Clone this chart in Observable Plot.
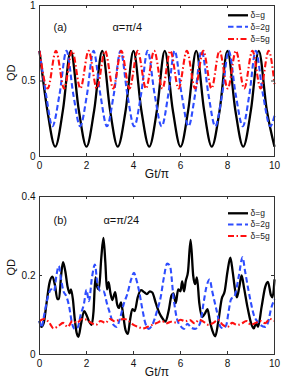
<!DOCTYPE html>
<html>
<head>
<meta charset="utf-8">
<script src="https://cdn.jsdelivr.net/npm/d3@7"></script>
<script src="https://cdn.jsdelivr.net/npm/@observablehq/plot@0.6"></script>
<style>
  html, body { margin: 0; padding: 0; background: #fff; }
  #chart { width: 286px; }
  #chart svg { display: block; overflow: visible; }
</style>
</head>
<body>
<div id="chart"></div>
<script>
// ---------- shared ----------
const seriesNames = ["δ=g", "δ=2g", "δ=5g"];
const xTicks = [0, 2, 4, 6, 8, 10];
const aYTicks = [0, 0.5, 1];
const bYTicks = [0, 0.2, 0.4];

// ---------- panel (a): alpha = pi/4 ----------
const aT_g = [0,0.33,0.67,1.0,1.33,1.67,2.0,2.33,2.67,3.0,3.33,3.67,4.0,4.33,4.67,5.0,5.33,5.67,6.0,6.33,6.67,7.0,7.33,7.67,8.0,8.33,8.67,9.0,9.33,9.67,10];
const aV_g = [0.70,0.31,0.065,0.31,0.70,0.31,0.065,0.31,0.70,0.31,0.065,0.31,0.70,0.31,0.065,0.31,0.70,0.31,0.065,0.31,0.70,0.31,0.065,0.31,0.70,0.31,0.065,0.31,0.70,0.31,0.065];

const aT_2g = [0,0.28,0.55,0.85,1.15,1.44,1.73,2.02,2.3,2.59,2.87,3.16,3.45,3.74,4.03,4.32,4.6,4.9,5.2,5.48,5.75,6.05,6.34,6.62,6.9,7.19,7.48,7.77,8.05,8.35,8.65,8.93,9.2,9.51,9.82,10];
const aV_2g = [0.70,0.41,0.20,0.41,0.70,0.41,0.20,0.41,0.70,0.41,0.20,0.41,0.70,0.41,0.20,0.41,0.70,0.41,0.20,0.41,0.70,0.41,0.20,0.41,0.70,0.41,0.20,0.41,0.70,0.41,0.20,0.41,0.70,0.41,0.20,0.27];

const aT_5g = [0,0.35,0.70,1.05,1.39,1.74,2.09,2.44,2.79,3.14,3.48,3.83,4.18,4.53,4.88,5.23,5.57,5.92,6.27,6.62,6.97,7.32,7.66,8.01,8.36,8.71,9.06,9.41,9.75,10];
const aV_5g = [0.70,0.45,0.70,0.45,0.70,0.45,0.70,0.45,0.70,0.45,0.70,0.45,0.70,0.45,0.70,0.45,0.70,0.45,0.70,0.45,0.70,0.45,0.70,0.45,0.70,0.45,0.70,0.45,0.70,0.48];

// ---------- panel (b): alpha = pi/24 ----------
const bT_g = [0,0.08,0.18,0.3,0.42,0.55,0.66,0.76,0.83,0.92,1.0,1.1,1.2,1.28,1.34,1.42,1.5,1.58,1.66,1.76,1.9,2.0,2.1,2.22,2.3,2.38,2.45,2.53,2.63,2.72,2.8,2.87,2.94,3.02,3.1,3.22,3.3,3.38,3.47,3.56,3.66,3.76,3.86,3.95,4.05,4.18,4.32,4.45,4.57,4.7,4.8,4.95,5.1,5.25,5.36,5.5,5.62,5.7,5.8,5.9,6.0,6.07,6.15,6.22,6.32,6.43,6.54,6.62,6.7,6.8,6.92,7.05,7.15,7.25,7.36,7.48,7.6,7.75,7.88,8.0,8.12,8.22,8.32,8.4,8.5,8.6,8.7,8.85,9.0,9.12,9.22,9.3,9.45,9.6,9.72,9.85,9.92,10];
const bV_g = [0.085,0.07,0.08,0.13,0.18,0.197,0.175,0.14,0.14,0.2,0.234,0.21,0.17,0.155,0.165,0.14,0.09,0.055,0.045,0.075,0.11,0.1,0.085,0.075,0.11,0.195,0.172,0.165,0.245,0.295,0.235,0.165,0.183,0.155,0.138,0.158,0.128,0.118,0.132,0.1,0.062,0.052,0.09,0.115,0.11,0.145,0.163,0.158,0.153,0.16,0.157,0.13,0.105,0.09,0.083,0.112,0.15,0.155,0.13,0.165,0.16,0.185,0.16,0.185,0.21,0.29,0.2,0.178,0.195,0.13,0.095,0.105,0.115,0.085,0.06,0.046,0.08,0.14,0.16,0.21,0.245,0.21,0.165,0.145,0.17,0.2,0.17,0.12,0.08,0.066,0.08,0.07,0.12,0.17,0.184,0.15,0.145,0.19];

const bT_2g = [0,0.08,0.2,0.35,0.5,0.62,0.72,0.82,0.92,1.02,1.12,1.25,1.38,1.5,1.62,1.75,1.89,2.0,2.1,2.24,2.36,2.45,2.59,2.72,2.88,3.02,3.15,3.28,3.42,3.58,3.73,3.9,4.02,4.12,4.24,4.37,4.5,4.65,4.8,5.0,5.15,5.29,5.43,5.55,5.71,5.85,5.99,6.15,6.3,6.45,6.62,6.75,6.86,6.98,7.1,7.24,7.35,7.55,7.7,7.82,7.95,8.05,8.15,8.3,8.48,8.64,8.75,8.9,9.0,9.12,9.25,9.4,9.6,9.72,9.85,10];
const bV_2g = [0.085,0.068,0.1,0.145,0.165,0.16,0.2,0.224,0.19,0.16,0.15,0.125,0.08,0.065,0.068,0.1,0.128,0.164,0.135,0.198,0.228,0.186,0.161,0.16,0.127,0.1,0.075,0.07,0.09,0.127,0.152,0.19,0.207,0.19,0.16,0.117,0.08,0.065,0.075,0.11,0.143,0.194,0.23,0.225,0.14,0.09,0.073,0.065,0.078,0.068,0.065,0.07,0.085,0.13,0.17,0.19,0.16,0.108,0.07,0.066,0.075,0.11,0.14,0.148,0.198,0.246,0.21,0.16,0.13,0.1,0.085,0.075,0.07,0.08,0.115,0.14];

const bT_5g = [0,0.2,0.4,0.6,0.8,1.0,1.2,1.4,1.6,1.8,2.0,2.2,2.4,2.6,2.8,3.0,3.2,3.4,3.6,3.8,4.0,4.2,4.4,4.6,4.8,5.0,5.2,5.4,5.6,5.8,6.0,6.2,6.4,6.6,6.8,7.0,7.2,7.4,7.6,7.8,8.0,8.2,8.4,8.6,8.8,9.0,9.2,9.4,9.6,9.8,10];
const bV_5g = [0.085,0.09,0.082,0.066,0.072,0.08,0.07,0.085,0.08,0.09,0.088,0.08,0.075,0.085,0.08,0.09,0.084,0.088,0.09,0.085,0.075,0.07,0.066,0.07,0.075,0.08,0.085,0.079,0.083,0.081,0.088,0.084,0.087,0.079,0.088,0.082,0.075,0.08,0.088,0.075,0.07,0.08,0.075,0.078,0.085,0.075,0.08,0.085,0.079,0.09,0.085];

// ---------- styles ----------
const styles = [
  {stroke: "#000000", strokeWidth: 2.3, strokeDasharray: null},
  {stroke: "#2e4dff", strokeWidth: 2.1, strokeDasharray: "5.5,3"},
  {stroke: "#ff1010", strokeWidth: 2.1, strokeDasharray: "6,2.5,1.5,2.5"}
];

function table(ts, vs, name) { return ts.map((t, i) => ({t, v: vs[i], name})); }

const FONT = "'Liberation Sans', Arial, Helvetica, sans-serif";

function panel(o) {
  const W = 286, ML = 39, MR = 12;
  const fw = W - ML - MR;
  const fh = o.height - o.marginTop - o.marginBottom;
  const lineMarks = o.series.map((s, i) =>
    Plot.line(s, {x: "t", y: "v", curve: o.curve, stroke: styles[i].stroke,
      strokeWidth: styles[i].strokeWidth, strokeDasharray: styles[i].strokeDasharray,
      strokeLinejoin: "round", strokeLinecap: "butt"}));
  const svg = Plot.plot({
    width: W, height: o.height,
    marginLeft: ML, marginRight: MR, marginTop: o.marginTop, marginBottom: o.marginBottom,
    style: {fontFamily: FONT, fontSize: "10px", background: "transparent", color: "#111", overflow: "visible"},
    x: {domain: [0, 10], label: null},
    y: {domain: o.yDomain, label: null},
    marks: [
      ...lineMarks,
      Plot.frame({stroke: "#333", strokeWidth: 1}),
      Plot.ruleX(xTicks, {x: d => d, insetTop: fh - 3, stroke: "#333"}),
      Plot.ruleX(xTicks, {x: d => d, insetBottom: fh - 3, stroke: "#333"}),
      Plot.ruleY(o.yTicks, {y: d => d, insetRight: fw - 3, stroke: "#333"}),
      Plot.ruleY(o.yTicks, {y: d => d, insetLeft: fw - 3, stroke: "#333"}),
      Plot.axisX(xTicks, {tickSize: 0, tickPadding: 5, tickFormat: d => String(d), fontSize: 10, fill: "#111"}),
      Plot.axisY(o.yTicks, {tickSize: 0, tickPadding: 4, tickFormat: d => String(d), fontSize: 10, fill: "#111"}),
      Plot.text(["Gt/π"], {frameAnchor: "bottom", dy: o.xLabelDy, fontSize: 12, fill: "#111"}),
      Plot.text(["QD"], {frameAnchor: "left", dx: -28, rotate: -90, fontSize: 11, fill: "#111"}),
      Plot.text([o.tag], {frameAnchor: "top-left", dx: 14, dy: o.tagDy, textAnchor: "start", fontSize: 11, fill: "#111"}),
      Plot.text([o.alpha], {frameAnchor: "top-left", dx: o.alphaDx, dy: o.tagDy, textAnchor: "start", fontSize: 11, fill: "#111"})
    ]
  });
  // legend (top-right, inside the axes, no box)
  const g = d3.select(svg).append("g").attr("font-family", FONT).attr("font-size", 8.5)
    .attr("text-anchor", "start");
  seriesNames.forEach((name, i) => {
    const y = o.legendY[i];
    g.append("line").attr("x1", 228).attr("x2", 248).attr("y1", y).attr("y2", y)
      .attr("stroke", styles[i].stroke).attr("stroke-width", styles[i].strokeWidth)
      .attr("stroke-dasharray", styles[i].strokeDasharray);
    g.append("text").attr("x", 250.5).attr("y", y).attr("dy", "0.35em")
      .attr("text-anchor", "start").attr("fill", "#222").text(name);
  });
  return svg;
}

const chart = document.getElementById("chart");
chart.style.background = "#fff";
chart.append(panel({
  height: 194, marginTop: 5, marginBottom: 38,
  yDomain: [0, 1], yTicks: aYTicks, curve: "monotone-x",
  series: [table(aT_g, aV_g, seriesNames[0]), table(aT_2g, aV_2g, seriesNames[1]), table(aT_5g, aV_5g, seriesNames[2])],
  tag: "(a)", alpha: "α=π/4", alphaDx: 73, tagDy: 18, xLabelDy: 21,
  legendY: [15.3, 26.8, 39]
}));
chart.append(panel({
  height: 194, marginTop: 2, marginBottom: 34,
  yDomain: [0, 0.4], yTicks: bYTicks, curve: "monotone-x",
  series: [table(bT_g, bV_g, seriesNames[0]), table(bT_2g, bV_2g, seriesNames[1]), table(bT_5g, bV_5g, seriesNames[2])],
  tag: "(b)", alpha: "α=π/24", alphaDx: 64, tagDy: 20, xLabelDy: 21.7,
  legendY: [19.3, 30.5, 42]
}));
</script>
</body>
</html>
